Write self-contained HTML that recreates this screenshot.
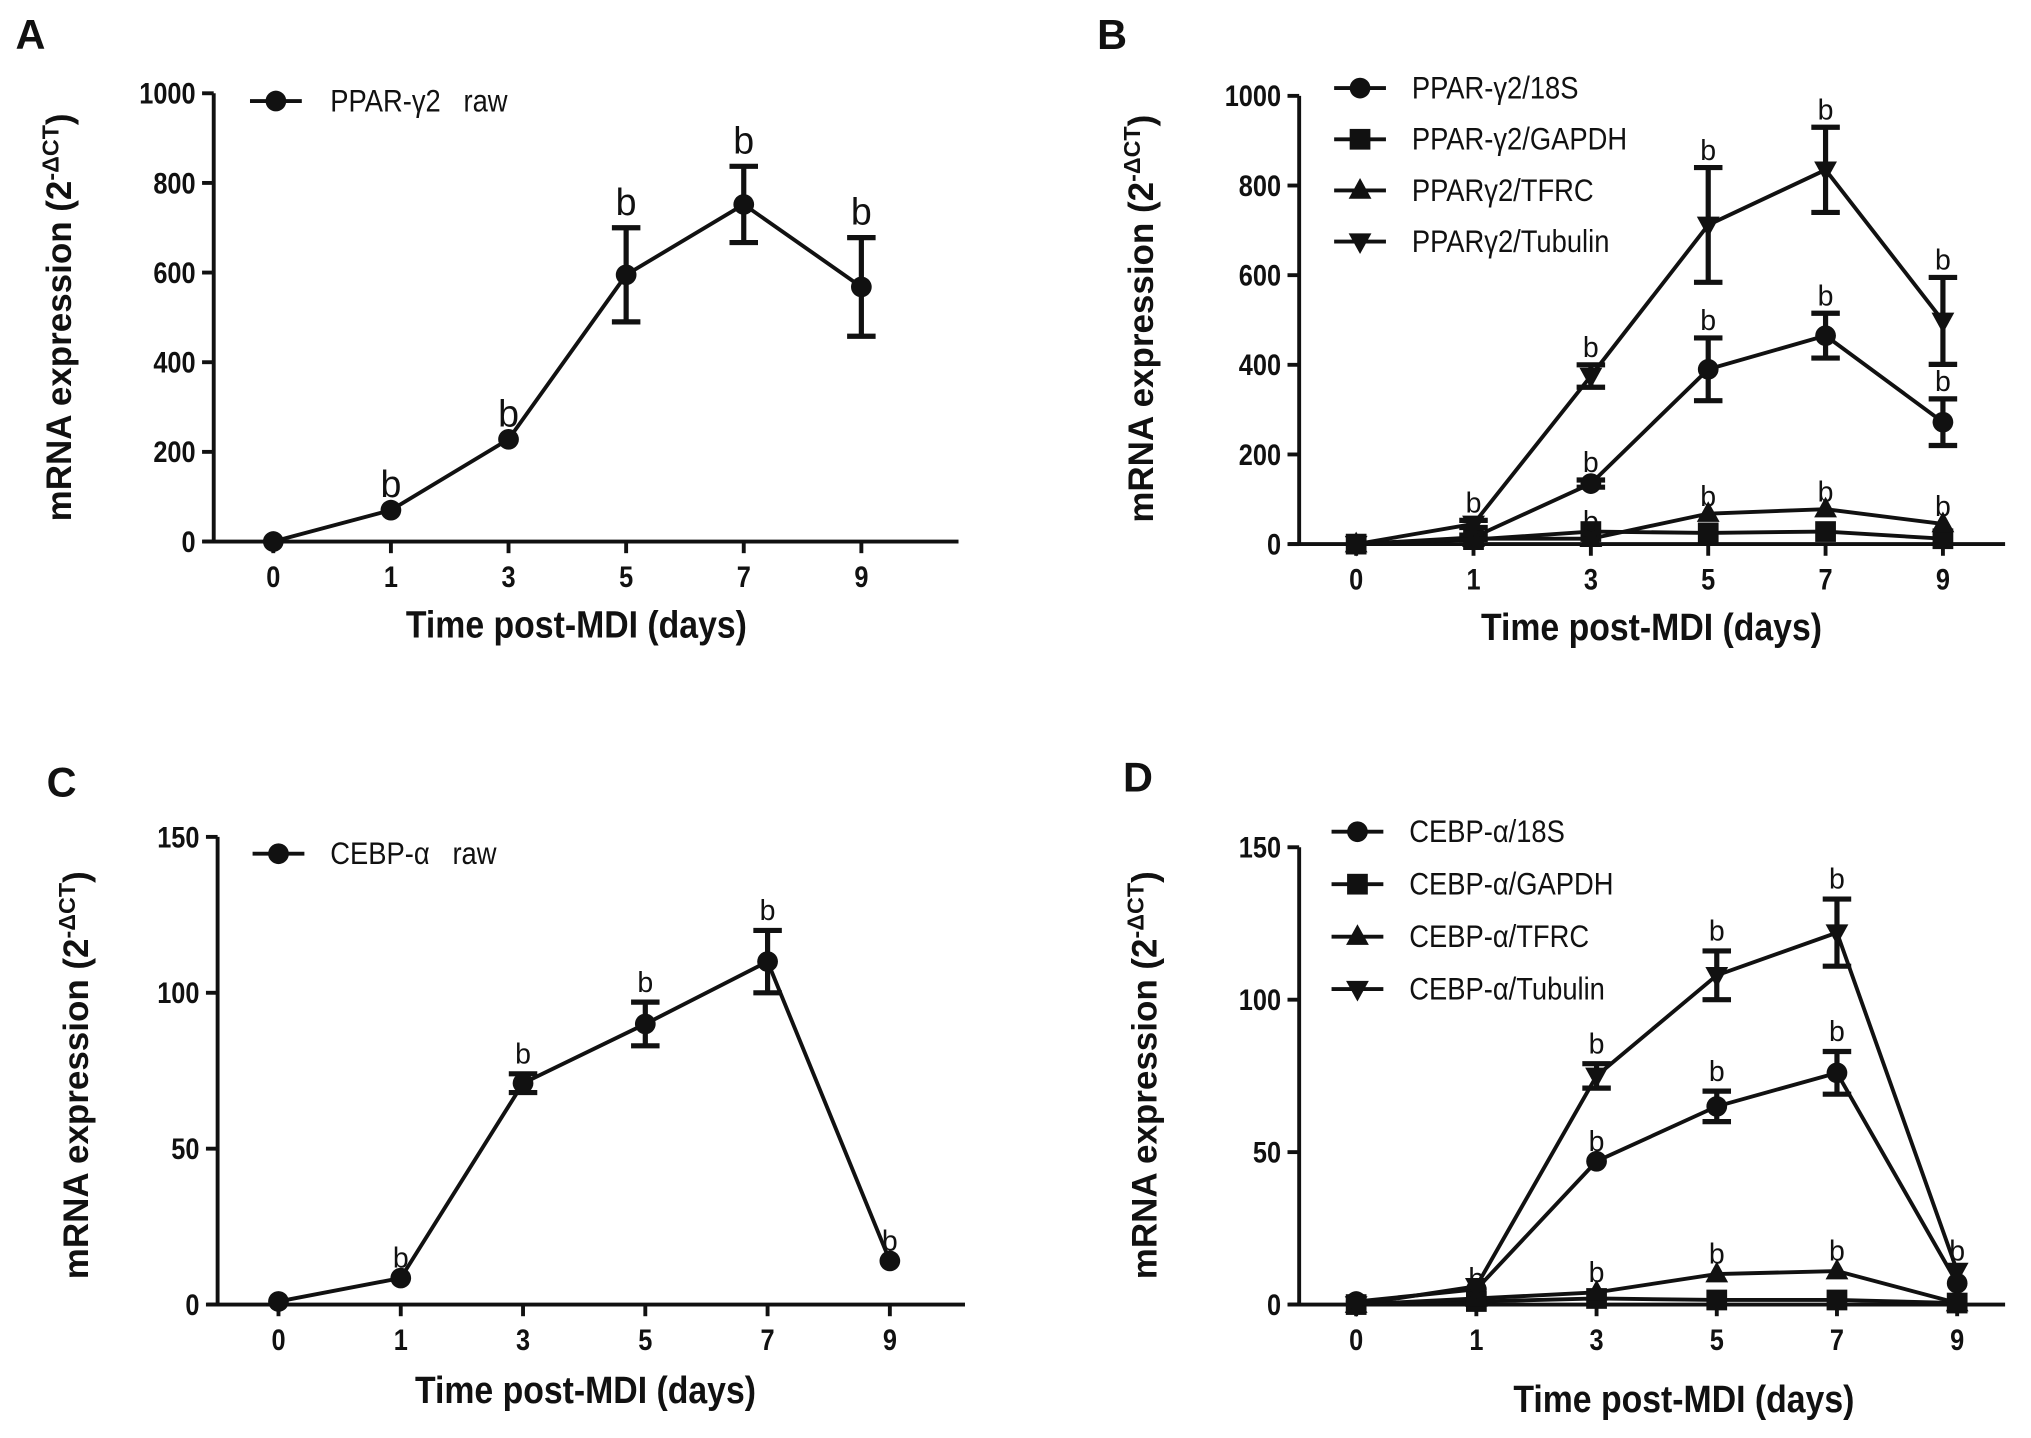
<!DOCTYPE html>
<html><head><meta charset="utf-8"><style>
html,body{margin:0;padding:0;background:#fff;}
svg{display:block;}
text{font-family:"Liberation Sans","DejaVu Sans",sans-serif;fill:#111;}
.tick{font-family:"Liberation Sans Narrow","Liberation Sans",sans-serif;font-weight:bold;font-size:23px;}
.title{font-family:"Liberation Sans Narrow","Liberation Sans",sans-serif;font-weight:bold;font-size:29px;}
.ytitle{font-weight:bold;font-size:27px;}
.leg{font-family:"Liberation Sans Narrow","Liberation Sans",sans-serif;font-size:24px;white-space:pre;}
.letter{font-weight:bold;font-size:32px;}
</style></head><body>
<svg id="fig" width="2031" height="1438" viewBox="0 0 1568 1110" preserveAspectRatio="none" xmlns="http://www.w3.org/2000/svg"></svg>
<script>
const days = ["0","1","3","5","7","9"];
const ticksA = [0,200,400,600,800,1000];
const ticksC = [0,50,100,150];
const aRaw = [0,70,228,595,752,568];
const aRawErr = [0,0,0,105,85,110];
const aSig = [0,1,1,1,1,1];
const b18S = [0,15,135,390,465,272];
const b18SErr = [0,5,8,70,50,52];
const b18SSig = [0,0,1,1,1,1];
const bGAPDH = [0,10,28,25,28,12];
const bGAPDHErr = [0,0,0,0,0,0];
const bTFRC = [0,12,12,68,78,45];
const bTFRCErr = [0,0,0,0,0,0];
const bTFRCSig = [0,0,1,1,1,1];
const bTub = [0,45,375,712,835,498];
const bTubErr = [0,8,25,128,95,97];
const bTubSig = [0,1,1,1,1,1];
const cRaw = [1,8.5,71,90,110,14];
const cRawErr = [0,0,3,7,10,0];
const cSig = [0,1,1,1,1,1];
const d18S = [1,5,47,65,76,7];
const d18SErr = [0,0,0,5,7,0];
const d18SSig = [0,0,1,1,1,0];
const dGAPDH = [0,1,2,1.5,1.5,0.5];
const dTFRC = [0,2,4,10,11,0.5];
const dTFRCSig = [0,1,1,1,1,0];
const dTub = [0,6,75,108,122,11];
const dTubErr = [0,0,4,8,11,0];
const dTubSig = [0,0,1,1,1,1];
const zeros = [0,0,0,0,0,0];

const NS="http://www.w3.org/2000/svg";
const svg=document.getElementById('fig');
function mk(tag,attrs,parent){const e=document.createElementNS(NS,tag);for(const k in attrs)e.setAttribute(k,attrs[k]);(parent||svg).appendChild(e);return e;}
function ctext(parent,x,y,cls,anchor,sx,str){
  const t=mk('text',{x:0,y:0,class:cls,'text-anchor':anchor,transform:`translate(${x},${y}) scale(${sx},1)`},parent);
  t.textContent=str;return t;
}

function marker(g,shape,x,y,s){
  let e;
  if(shape==='circle'){e=mk('circle',{cx:x,cy:y,r:s},g);}
  else if(shape==='square'){e=mk('rect',{x:x-s,y:y-s,width:2*s,height:2*s},g);}
  else if(shape==='up'){e=mk('polygon',{points:`${x},${y-s*1.2} ${x-s*1.1},${y+s*0.8} ${x+s*1.1},${y+s*0.8}`},g);}
  else {e=mk('polygon',{points:`${x},${y+s*1.2} ${x-s*1.1},${y-s*0.8} ${x+s*1.1},${y-s*0.8}`},g);}
  e.setAttribute('fill','#111');
  
  
  return e;
}

function panel(p){
  const g=mk('g',{});
  
  
  const ys=v=>p.y0-(v/p.ymax)*(p.y0-p.ytop);
  const xs=i=>p.xs0+i*p.dx;
  const L=mk('text',{x:p.lx,y:p.ly,class:'letter'},g);L.textContent=p.letter;
  
  const ya=mk('line',{x1:p.ax,y1:p.ytop,x2:p.ax,y2:p.y0,stroke:'#111','stroke-width':3},g);
  
  const xa=mk('line',{x1:p.ax-8,y1:p.y0,x2:p.axEnd,y2:p.y0,stroke:'#111','stroke-width':3},g);
  
  p.ticks.forEach(t=>{
    const y=ys(t);
    mk('line',{x1:p.ax-9,y1:y,x2:p.ax,y2:y,stroke:'#111','stroke-width':3},g);
    const tx=ctext(g,p.ax-14,y+8,'tick','end',0.85,String(t));
    
  });
  days.forEach((d,i)=>{
    const x=xs(i);
    mk('line',{x1:x,y1:p.y0,x2:x,y2:p.y0+9,stroke:'#111','stroke-width':3},g);
    const tx=ctext(g,x,p.y0+35,'tick','middle',0.85,d);
    
  });
  const xt=ctext(g,p.xtx,p.xty,'title','middle',0.9,'Time post-MDI (days)');
  
  const yt=mk('text',{x:0,y:0,class:'ytitle','text-anchor':'middle',transform:`translate(${p.ytx},${p.yty}) rotate(-90)`},g);
  
  yt.innerHTML='mRNA expression  (2<tspan dy="-10" font-size="18">-ΔCT</tspan><tspan dy="10">)</tspan>';
  p.series.forEach((s,si)=>{
    const sg=mk('g',{},g);
    
    
    const pts=s.vals.map((v,i)=>xs(i)+','+ys(v)).join(' ');
    const ln=mk('polyline',{points:pts,fill:'none',stroke:'#111','stroke-width':3},sg);
    
    s.vals.forEach((v,i)=>{
      const x=xs(i),y=ys(v),e=s.err[i];
      if(e>0){
        const eb=mk('path',{d:`M${x},${ys(v+e)}V${ys(v-e)}M${x-11},${ys(v+e)}h22M${x-11},${ys(v-e)}h22`,stroke:'#111','stroke-width':4,fill:'none'},sg);
        
      }
      marker(sg,s.shape,x,y,p.ms);
      if(s.sig[i]){
        const b=mk('text',{x:x,y:ys(v+e)-p.bgap,'text-anchor':'middle','font-size':p.bsize},sg);b.textContent='b';
        
      }
    });
    if(s.label){
      const ly=p.legY+si*p.legDy;
      const lg=mk('g',{},g);
      
      mk('line',{x1:p.legX,y1:ly,x2:p.legX+40,y2:ly,stroke:'#111','stroke-width':3},lg);
      marker(lg,s.shape,p.legX+20,ly,8);
      ctext(lg,p.legX+p.legTx,ly+8,'leg','start',0.88,s.label);
    }
  });
}

panel({name:'panel-a',letter:'A',lx:12,ly:38,ax:165,axEnd:740,y0:418,ytop:72,ymax:1000,ticks:ticksA,xs0:211,dx:90.8,
  xtx:445,xty:492,ytx:55,yty:245,ms:8,bsize:29,bgap:10,legX:193,legY:78,legDy:40,legTx:62,
  series:[{id:'ppar-raw',label:'PPAR-γ2   raw',shape:'circle',vals:aRaw,err:aRawErr,sig:aSig}]});
panel({name:'panel-b',letter:'B',lx:847,ly:38,ax:1003,axEnd:1548,y0:420,ytop:74,ymax:1000,ticks:ticksA,xs0:1047,dx:90.6,
  xtx:1275,xty:494,ytx:890,yty:246,ms:8,bsize:22,bgap:6,legX:1030,legY:68,legDy:39.5,legTx:60,
  series:[{id:'ppar-18s',label:'PPAR-γ2/18S',shape:'circle',vals:b18S,err:b18SErr,sig:b18SSig},
          {id:'ppar-gapdh',label:'PPAR-γ2/GAPDH',shape:'square',vals:bGAPDH,err:bGAPDHErr,sig:zeros},
          {id:'ppar-tfrc',label:'PPARγ2/TFRC',shape:'up',vals:bTFRC,err:bTFRCErr,sig:bTFRCSig},
          {id:'ppar-tubulin',label:'PPARγ2/Tubulin',shape:'down',vals:bTub,err:bTubErr,sig:bTubSig}]});
panel({name:'panel-c',letter:'C',lx:36,ly:615,ax:168,axEnd:745,y0:1007,ytop:646,ymax:150,ticks:ticksC,xs0:215,dx:94.4,
  xtx:452,xty:1083,ytx:68,yty:830,ms:8,bsize:22,bgap:8,legX:195,legY:659,legDy:40,legTx:60,
  series:[{id:'cebp-raw',label:'CEBP-α   raw',shape:'circle',vals:cRaw,err:cRawErr,sig:cSig}]});
panel({name:'panel-d',letter:'D',lx:867,ly:611,ax:1003,axEnd:1548,y0:1007,ytop:654,ymax:150,ticks:ticksC,xs0:1047,dx:92.8,
  xtx:1300,xty:1090,ytx:893,yty:830,ms:8,bsize:22,bgap:8,legX:1028,legY:642,legDy:40.5,legTx:60,
  series:[{id:'cebp-18s',label:'CEBP-α/18S',shape:'circle',vals:d18S,err:d18SErr,sig:d18SSig},
          {id:'cebp-gapdh',label:'CEBP-α/GAPDH',shape:'square',vals:dGAPDH,err:zeros,sig:zeros},
          {id:'cebp-tfrc',label:'CEBP-α/TFRC',shape:'up',vals:dTFRC,err:zeros,sig:dTFRCSig},
          {id:'cebp-tubulin',label:'CEBP-α/Tubulin',shape:'down',vals:dTub,err:dTubErr,sig:dTubSig}]});
</script>
</body></html>
